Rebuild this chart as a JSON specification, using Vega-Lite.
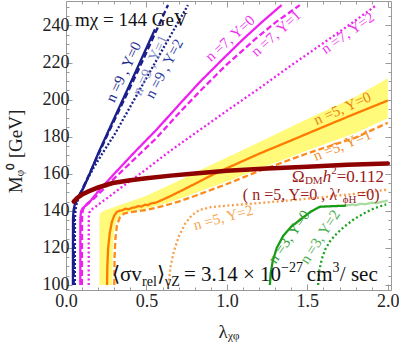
{
"$schema":"https://vega.github.io/schema/vega-lite/v6.json",
"width":325,"height":289,
"autosize":{"type":"none"},
"padding":{"left":66,"top":1,"right":8,"bottom":60},
"background":"white",
"config":{"view":{"stroke":"#9a9a9a","strokeWidth":1},"font":"Liberation Serif","text":{"font":"Liberation Serif"},"axis":{"labelFont":"Liberation Serif","titleFont":"Liberation Serif"}},
"datasets":{
"band":[
{"x":0.208,"lo":100,"hi":136},{"x":0.212,"lo":100,"hi":138.3},{"x":0.22,"lo":100,"hi":139.3},{"x":0.24,"lo":100,"hi":140.2},{"x":0.26,"lo":100,"hi":140.8},{"x":0.287,"lo":100,"hi":141.6},{"x":0.29,"lo":118,"hi":141.7},{"x":0.295,"lo":127,"hi":141.9},{"x":0.305,"lo":132.5,"hi":142.2},{"x":0.32,"lo":135.8,"hi":142.7},{"x":0.34,"lo":137.7,"hi":143.3},{"x":0.37,"lo":138.8,"hi":144.2},{"x":0.4,"lo":139.5,"hi":145},{"x":0.5,"lo":141.3,"hi":148.2},{"x":0.6,"lo":143.5,"hi":152.2},{"x":0.7,"lo":146.3,"hi":156.3},{"x":0.8,"lo":149.5,"hi":160.5},{"x":1.0,"lo":155.8,"hi":168.8},{"x":1.2,"lo":162.6,"hi":177},{"x":1.5,"lo":172.5,"hi":189.5},{"x":1.8,"lo":182,"hi":201.5},{"x":2.0,"lo":190,"hi":211.5}],
"lines":[
{"s":"n9Y0","x":0.043,"y":100},{"s":"n9Y0","x":0.0432,"y":120},{"s":"n9Y0","x":0.0435,"y":136},{"s":"n9Y0","x":0.047,"y":140.5},{"s":"n9Y0","x":0.055,"y":143.5},{"s":"n9Y0","x":0.068,"y":146.2},{"s":"n9Y0","x":0.09,"y":149.5},{"s":"n9Y0","x":0.11,"y":152.5},{"s":"n9Y0","x":0.14,"y":158.5},{"s":"n9Y0","x":0.2,"y":171},{"s":"n9Y0","x":0.3,"y":190},{"s":"n9Y0","x":0.43,"y":214.5},{"s":"n9Y0","x":0.553,"y":238},
{"s":"n9Y1","x":0.048,"y":100},{"s":"n9Y1","x":0.0482,"y":120},{"s":"n9Y1","x":0.0485,"y":136.5},{"s":"n9Y1","x":0.052,"y":141},{"s":"n9Y1","x":0.06,"y":144},{"s":"n9Y1","x":0.075,"y":147.2},{"s":"n9Y1","x":0.1,"y":151.5},{"s":"n9Y1","x":0.13,"y":157},{"s":"n9Y1","x":0.17,"y":164.5},{"s":"n9Y1","x":0.26,"y":181.5},{"s":"n9Y1","x":0.45,"y":216},{"s":"n9Y1","x":0.634,"y":251},
{"s":"n9Y2","x":0.055,"y":100},{"s":"n9Y2","x":0.0552,"y":120},{"s":"n9Y2","x":0.0556,"y":136},{"s":"n9Y2","x":0.06,"y":141},{"s":"n9Y2","x":0.068,"y":144.5},{"s":"n9Y2","x":0.085,"y":148.3},{"s":"n9Y2","x":0.12,"y":155},{"s":"n9Y2","x":0.17,"y":163},{"s":"n9Y2","x":0.23,"y":171.5},{"s":"n9Y2","x":0.304,"y":181.5},{"s":"n9Y2","x":0.45,"y":204},{"s":"n9Y2","x":0.6,"y":227},{"s":"n9Y2","x":0.758,"y":251},
{"s":"n7Y0","x":0.089,"y":100},{"s":"n7Y0","x":0.0892,"y":120},{"s":"n7Y0","x":0.0896,"y":136},{"s":"n7Y0","x":0.093,"y":139.5},{"s":"n7Y0","x":0.102,"y":141.2},{"s":"n7Y0","x":0.118,"y":142.5},{"s":"n7Y0","x":0.14,"y":144},{"s":"n7Y0","x":0.2,"y":150.5},{"s":"n7Y0","x":0.3,"y":160},{"s":"n7Y0","x":0.43,"y":172},{"s":"n7Y0","x":0.565,"y":184},{"s":"n7Y0","x":0.7,"y":197},{"s":"n7Y0","x":0.832,"y":209.5},{"s":"n7Y0","x":0.97,"y":221.5},{"s":"n7Y0","x":1.1,"y":232.5},{"s":"n7Y0","x":1.22,"y":242},{"s":"n7Y0","x":1.34,"y":251},
{"s":"n7Y1","x":0.099,"y":100},{"s":"n7Y1","x":0.0992,"y":120},{"s":"n7Y1","x":0.0996,"y":136.5},{"s":"n7Y1","x":0.104,"y":140.3},{"s":"n7Y1","x":0.115,"y":142.5},{"s":"n7Y1","x":0.135,"y":144.2},{"s":"n7Y1","x":0.172,"y":146.5},{"s":"n7Y1","x":0.3,"y":157.5},{"s":"n7Y1","x":0.45,"y":170},{"s":"n7Y1","x":0.553,"y":178.5},{"s":"n7Y1","x":0.7,"y":192.5},{"s":"n7Y1","x":0.832,"y":204.5},{"s":"n7Y1","x":1.0,"y":219},{"s":"n7Y1","x":1.174,"y":232.5},{"s":"n7Y1","x":1.3,"y":241.5},{"s":"n7Y1","x":1.453,"y":251},
{"s":"n7Y2","x":0.141,"y":100},{"s":"n7Y2","x":0.1412,"y":120},{"s":"n7Y2","x":0.1416,"y":136.5},{"s":"n7Y2","x":0.145,"y":139},{"s":"n7Y2","x":0.155,"y":140.5},{"s":"n7Y2","x":0.172,"y":141.5},{"s":"n7Y2","x":0.25,"y":146.5},{"s":"n7Y2","x":0.35,"y":153},{"s":"n7Y2","x":0.5,"y":162.5},{"s":"n7Y2","x":0.65,"y":172.5},{"s":"n7Y2","x":0.772,"y":180},{"s":"n7Y2","x":1.0,"y":194},{"s":"n7Y2","x":1.2,"y":206},{"s":"n7Y2","x":1.4,"y":218.5},{"s":"n7Y2","x":1.598,"y":230.4},{"s":"n7Y2","x":1.78,"y":241.5},{"s":"n7Y2","x":1.93,"y":251},
{"s":"n5Y0","x":0.255,"y":100},{"s":"n5Y0","x":0.257,"y":110},{"s":"n5Y0","x":0.262,"y":120},{"s":"n5Y0","x":0.272,"y":128},{"s":"n5Y0","x":0.285,"y":134},{"s":"n5Y0","x":0.3,"y":137.5},{"s":"n5Y0","x":0.315,"y":139.3},{"s":"n5Y0","x":0.33,"y":140},{"s":"n5Y0","x":0.35,"y":140.3},{"s":"n5Y0","x":0.37,"y":141.2},{"s":"n5Y0","x":0.39,"y":140.8},{"s":"n5Y0","x":0.41,"y":141.6},{"s":"n5Y0","x":0.43,"y":141.9},{"s":"n5Y0","x":0.45,"y":142.6},{"s":"n5Y0","x":0.47,"y":142.3},{"s":"n5Y0","x":0.49,"y":143.3},{"s":"n5Y0","x":0.51,"y":143.1},{"s":"n5Y0","x":0.53,"y":144},{"s":"n5Y0","x":0.56,"y":144.5},{"s":"n5Y0","x":0.6,"y":146},{"s":"n5Y0","x":0.65,"y":148},{"s":"n5Y0","x":0.72,"y":151},{"s":"n5Y0","x":0.8,"y":154.5},{"s":"n5Y0","x":0.9,"y":159},{"s":"n5Y0","x":1.0,"y":163},{"s":"n5Y0","x":1.2,"y":170.8},{"s":"n5Y0","x":1.4,"y":178},{"s":"n5Y0","x":1.6,"y":185.3},{"s":"n5Y0","x":1.8,"y":192.5},{"s":"n5Y0","x":2.0,"y":199.5},
{"s":"n5Y1","x":0.3,"y":100},{"s":"n5Y1","x":0.302,"y":115},{"s":"n5Y1","x":0.307,"y":125},{"s":"n5Y1","x":0.317,"y":132.5},{"s":"n5Y1","x":0.335,"y":136.5},{"s":"n5Y1","x":0.36,"y":138.5},{"s":"n5Y1","x":0.4,"y":139.3},{"s":"n5Y1","x":0.5,"y":140.5},{"s":"n5Y1","x":0.6,"y":142.5},{"s":"n5Y1","x":0.7,"y":145},{"s":"n5Y1","x":0.8,"y":148},{"s":"n5Y1","x":1.0,"y":154.5},{"s":"n5Y1","x":1.2,"y":161.5},{"s":"n5Y1","x":1.5,"y":171},{"s":"n5Y1","x":1.8,"y":179.5},{"s":"n5Y1","x":2.0,"y":187.5},
{"s":"n5Y2","x":0.636,"y":100},{"s":"n5Y2","x":0.65,"y":110},{"s":"n5Y2","x":0.67,"y":118},{"s":"n5Y2","x":0.7,"y":126},{"s":"n5Y2","x":0.74,"y":133},{"s":"n5Y2","x":0.78,"y":137.5},{"s":"n5Y2","x":0.83,"y":140.5},{"s":"n5Y2","x":0.9,"y":142},{"s":"n5Y2","x":1.0,"y":142.8},{"s":"n5Y2","x":1.2,"y":144.2},{"s":"n5Y2","x":1.5,"y":146.5},{"s":"n5Y2","x":1.8,"y":149.2},{"s":"n5Y2","x":2.0,"y":151.5},
{"s":"n3Y0","x":1.267,"y":100},{"s":"n3Y0","x":1.272,"y":106},{"s":"n3Y0","x":1.285,"y":113},{"s":"n3Y0","x":1.31,"y":120},{"s":"n3Y0","x":1.35,"y":126.5},{"s":"n3Y0","x":1.4,"y":131.5},{"s":"n3Y0","x":1.453,"y":135},{"s":"n3Y0","x":1.52,"y":139.5},{"s":"n3Y0","x":1.578,"y":142.2},{"s":"n3Y0","x":1.65,"y":142.5},{"s":"n3Y0","x":1.743,"y":142.8},
{"s":"n3pale","x":1.743,"y":142.8},{"s":"n3pale","x":1.78,"y":143.5},{"s":"n3pale","x":1.8,"y":143},{"s":"n3pale","x":1.83,"y":143.8},{"s":"n3pale","x":1.86,"y":143.6},{"s":"n3pale","x":1.9,"y":144.4},{"s":"n3pale","x":1.93,"y":144.2},{"s":"n3pale","x":1.97,"y":145},{"s":"n3pale","x":2.0,"y":145.5},
{"s":"n3Y2","x":1.567,"y":100},{"s":"n3Y2","x":1.575,"y":108},{"s":"n3Y2","x":1.59,"y":114},{"s":"n3Y2","x":1.61,"y":119},{"s":"n3Y2","x":1.64,"y":123.5},{"s":"n3Y2","x":1.68,"y":127.5},{"s":"n3Y2","x":1.73,"y":131.5},{"s":"n3Y2","x":1.79,"y":135.5},{"s":"n3Y2","x":1.85,"y":138.5},{"s":"n3Y2","x":1.9,"y":140.8},{"s":"n3Y2","x":1.97,"y":143},{"s":"n3Y2","x":1.99,"y":143.5}],
"omega":[
{"x":0.048,"y":145},{"x":0.07,"y":147},{"x":0.1,"y":148.8},{"x":0.14,"y":150.5},{"x":0.2,"y":152.6},{"x":0.29,"y":155},{"x":0.4,"y":156.5},{"x":0.5,"y":157.6},{"x":0.65,"y":159},{"x":0.8,"y":160.2},{"x":1.0,"y":161.6},{"x":1.25,"y":162.8},{"x":1.5,"y":163.8},{"x":1.75,"y":164.8},{"x":2.0,"y":165.6}],
"one":[{"x":1,"y":150}]
},
"layer":[
{"data":{"name":"band"},"mark":{"type":"area","color":"#fffa7a","opacity":1},
 "encoding":{
  "x":{"field":"x","type":"quantitative","scale":{"domain":[0,2.02],"nice":false,"zero":false},
   "axis":{"orient":"bottom","values":[0,0.5,1,1.5,2],"format":".1f","domain":false,"grid":false,"tickSize":-6,"tickColor":"#9a9a9a","labelFontSize":18,"labelColor":"#222","labelPadding":8,"labelFlush":false,"labelOverlap":false,"title":"λᵪᵩ","titleFontSize":19,"titleFontWeight":"normal","titleColor":"#222","titleX":162.5,"titleY":47,"titleBaseline":"alphabetic","titleAlign":"center"}},
  "y":{"field":"lo","type":"quantitative","scale":{"domain":[97.3,253.2],"nice":false,"zero":false},
   "axis":{"orient":"left","values":[100,120,140,160,180,200,220,240],"domain":false,"grid":false,"tickSize":-6,"tickColor":"#9a9a9a","labelFontSize":18,"labelColor":"#222","labelPadding":3,"title":"Mᵩ⁰ [GeV]","titleFontSize":19,"titleFontWeight":"normal","titleColor":"#222","titleX":-51,"titleY":150,"titleAngle":-90,"titleAlign":"center","titleBaseline":"middle"}},
  "y2":{"field":"hi"}}},
{"data":{"name":"one"},"mark":{"type":"point","opacity":0},
 "encoding":{
  "x":{"field":"x","type":"quantitative","scale":{"domain":[0,2.02],"nice":false,"zero":false},
   "axis":{"orient":"bottom","values":[0.1,0.2,0.3,0.4,0.6,0.7,0.8,0.9,1.1,1.2,1.3,1.4,1.6,1.7,1.8,1.9],"domain":false,"grid":false,"labels":false,"tickSize":-3,"tickColor":"#9a9a9a","title":null}},
  "y":{"field":"y","type":"quantitative","scale":{"domain":[97.3,253.2],"nice":false,"zero":false},
   "axis":{"orient":"left","values":[105,110,115,125,130,135,145,150,155,165,170,175,185,190,195,205,210,215,225,230,235,245,250],"domain":false,"grid":false,"labels":false,"tickSize":-3,"tickColor":"#9a9a9a","title":null}}}},
{"data":{"name":"one"},"mark":{"type":"point","opacity":0},
 "encoding":{
  "x":{"field":"x","type":"quantitative","scale":{"domain":[0,2.02],"nice":false,"zero":false},
   "axis":{"orient":"top","values":[0,0.5,1,1.5,2],"domain":false,"grid":false,"labels":false,"tickSize":-6,"tickColor":"#9a9a9a","title":null}},
  "y":{"field":"y","type":"quantitative","scale":{"domain":[97.3,253.2],"nice":false,"zero":false},
   "axis":{"orient":"right","values":[100,120,140,160,180,200,220,240],"domain":false,"grid":false,"labels":false,"tickSize":-6,"tickColor":"#9a9a9a","title":null}}}},
{"data":{"name":"one"},"mark":{"type":"point","opacity":0},
 "encoding":{
  "x":{"field":"x","type":"quantitative","scale":{"domain":[0,2.02],"nice":false,"zero":false},
   "axis":{"orient":"top","values":[0.1,0.2,0.3,0.4,0.6,0.7,0.8,0.9,1.1,1.2,1.3,1.4,1.6,1.7,1.8,1.9],"domain":false,"grid":false,"labels":false,"tickSize":-3,"tickColor":"#9a9a9a","title":null}},
  "y":{"field":"y","type":"quantitative","scale":{"domain":[97.3,253.2],"nice":false,"zero":false},
   "axis":{"orient":"right","values":[105,110,115,125,130,135,145,150,155,165,170,175,185,190,195,205,210,215,225,230,235,245,250],"domain":false,"grid":false,"labels":false,"tickSize":-3,"tickColor":"#9a9a9a","title":null}}}},
{"data":{"name":"lines"},"mark":{"type":"line","clip":true,"strokeCap":"butt"},
 "encoding":{
  "x":{"field":"x","type":"quantitative","scale":{"domain":[0,2.02],"nice":false,"zero":false},"axis":null},
  "y":{"field":"y","type":"quantitative","scale":{"domain":[97.3,253.2],"nice":false,"zero":false},"axis":null},
  "order":{"value":null},
  "color":{"field":"s","type":"nominal","legend":null,"scale":{"domain":["n9Y0","n9Y1","n9Y2","n7Y0","n7Y1","n7Y2","n5Y0","n5Y1","n5Y2","n3Y0","n3pale","n3Y2"],"range":["#1a1f8c","#1a1f8c","#1a1f8c","#ee22ee","#ee22ee","#ee22ee","#ff7a00","#ff8a1a","#f7a04a","#169c16","#a8dca0","#1da31d"]}},
  "strokeDash":{"field":"s","type":"nominal","legend":null,"scale":{"domain":["n9Y0","n9Y1","n9Y2","n7Y0","n7Y1","n7Y2","n5Y0","n5Y1","n5Y2","n3Y0","n3pale","n3Y2"],"range":[[1,0],[6,3],[2,2],[1,0],[6,3],[2,2.5],[1,0],[6,3],[2,2.5],[1,0],[1,0],[2,2.5]]}},
  "strokeWidth":{"field":"s","type":"nominal","legend":null,"scale":{"domain":["n9Y0","n9Y1","n9Y2","n7Y0","n7Y1","n7Y2","n5Y0","n5Y1","n5Y2","n3Y0","n3pale","n3Y2"],"range":[2.3,2.3,2.5,1.8,1.8,2,1.6,1.6,1.6,1.8,1.3,2]}}}},
{"data":{"name":"omega"},"mark":{"type":"line","color":"#8f0000","strokeWidth":4.5,"strokeCap":"round"},
 "encoding":{
  "x":{"field":"x","type":"quantitative","scale":{"domain":[0,2.02],"nice":false,"zero":false},"axis":null},
  "y":{"field":"y","type":"quantitative","scale":{"domain":[97.3,253.2],"nice":false,"zero":false},"axis":null}}},
{"data":{"values":[{"x":0.056,"y":239.7,"t":"mχ = 144 GeV"}]},
 "mark":{"type":"text","align":"left","baseline":"alphabetic","fontSize":19,"color":"#111"},
 "encoding":{
  "x":{"field":"x","type":"quantitative","scale":{"domain":[0,2.02],"nice":false,"zero":false},"axis":null},
  "y":{"field":"y","type":"quantitative","scale":{"domain":[97.3,253.2],"nice":false,"zero":false},"axis":null},
  "text":{"field":"t"}}},
{"data":{"values":[
  {"x":0.286,"y":102.2,"t":"⟨σv"},
  {"x":0.565,"y":102.2,"t":"⟩"},
  {"x":0.733,"y":102.2,"t":"= 3.14 × 10"},
  {"x":1.497,"y":102.2,"t":"cm"},
  {"x":1.702,"y":102.2,"t":"/ sec"}]},
 "mark":{"type":"text","align":"left","baseline":"alphabetic","fontSize":21,"color":"#111"},
 "encoding":{
  "x":{"field":"x","type":"quantitative","scale":{"domain":[0,2.02],"nice":false,"zero":false},"axis":null},
  "y":{"field":"y","type":"quantitative","scale":{"domain":[97.3,253.2],"nice":false,"zero":false},"axis":null},
  "text":{"field":"t"}}},
{"data":{"values":[
  {"x":0.473,"y":99.4,"t":"rel"},
  {"x":0.616,"y":99.4,"t":"γZ"},
  {"x":1.337,"y":106.8,"t":"−27"},
  {"x":1.656,"y":106.8,"t":"3"}]},
 "mark":{"type":"text","align":"left","baseline":"alphabetic","fontSize":14,"color":"#111"},
 "encoding":{
  "x":{"field":"x","type":"quantitative","scale":{"domain":[0,2.02],"nice":false,"zero":false},"axis":null},
  "y":{"field":"y","type":"quantitative","scale":{"domain":[97.3,253.2],"nice":false,"zero":false},"axis":null},
  "text":{"field":"t"}}},
{"data":{"values":[
  {"x":1.404,"y":155.5,"t":"Ω"},
  {"x":1.683,"y":155.5,"t":"=0.112"}]},
 "mark":{"type":"text","align":"left","baseline":"alphabetic","fontSize":17,"color":"#9a1a1a"},
 "encoding":{
  "x":{"field":"x","type":"quantitative","scale":{"domain":[0,2.02],"nice":false,"zero":false},"axis":null},
  "y":{"field":"y","type":"quantitative","scale":{"domain":[97.3,253.2],"nice":false,"zero":false},"axis":null},
  "text":{"field":"t"}}},
{"data":{"values":[
  {"x":1.099,"y":145.9,"t":"( n =5,  Y=0 ,  λ′"},
  {"x":1.81,"y":145.9,"t":"=0)"}]},
 "mark":{"type":"text","align":"left","baseline":"alphabetic","fontSize":16,"color":"#9a1a1a"},
 "encoding":{
  "x":{"field":"x","type":"quantitative","scale":{"domain":[0,2.02],"nice":false,"zero":false},"axis":null},
  "y":{"field":"y","type":"quantitative","scale":{"domain":[97.3,253.2],"nice":false,"zero":false},"axis":null},
  "text":{"field":"t"}}},
{"data":{"values":[
  {"x":1.485,"y":154.3,"t":"DM"},
  {"x":1.649,"y":160,"t":"2"},
  {"x":1.72,"y":144.3,"t":"ϕH"}]},
 "mark":{"type":"text","align":"left","baseline":"alphabetic","fontSize":11,"color":"#9a1a1a"},
 "encoding":{
  "x":{"field":"x","type":"quantitative","scale":{"domain":[0,2.02],"nice":false,"zero":false},"axis":null},
  "y":{"field":"y","type":"quantitative","scale":{"domain":[97.3,253.2],"nice":false,"zero":false},"axis":null},
  "text":{"field":"t"}}},
{"data":{"values":[{"x":1.596,"y":155.5,"t":"h"}]},
 "mark":{"type":"text","align":"left","baseline":"alphabetic","fontSize":17,"fontStyle":"italic","color":"#9a1a1a"},
 "encoding":{
  "x":{"field":"x","type":"quantitative","scale":{"domain":[0,2.02],"nice":false,"zero":false},"axis":null},
  "y":{"field":"y","type":"quantitative","scale":{"domain":[97.3,253.2],"nice":false,"zero":false},"axis":null},
  "text":{"field":"t"}}},
{"data":{"values":[{"x":0.356,"y":215,"t":"n =9 ,  Y=0"}]},
 "mark":{"type":"text","align":"center","baseline":"middle","fontSize":15,"angle":295,"color":"#1e2a8c"},
 "encoding":{"x":{"field":"x","type":"quantitative","scale":{"domain":[0,2.02],"nice":false,"zero":false},"axis":null},"y":{"field":"y","type":"quantitative","scale":{"domain":[97.3,253.2],"nice":false,"zero":false},"axis":null},"text":{"field":"t"}}},
{"data":{"values":[{"x":0.522,"y":218.6,"t":"n =9 ,  Y=1"}]},
 "mark":{"type":"text","align":"center","baseline":"middle","fontSize":15,"angle":295,"color":"#7f8cc6"},
 "encoding":{"x":{"field":"x","type":"quantitative","scale":{"domain":[0,2.02],"nice":false,"zero":false},"axis":null},"y":{"field":"y","type":"quantitative","scale":{"domain":[97.3,253.2],"nice":false,"zero":false},"axis":null},"text":{"field":"t"}}},
{"data":{"values":[{"x":0.609,"y":216.8,"t":"n =9 ,  Y=2"}]},
 "mark":{"type":"text","align":"center","baseline":"middle","fontSize":15,"angle":298,"color":"#2a3aa0"},
 "encoding":{"x":{"field":"x","type":"quantitative","scale":{"domain":[0,2.02],"nice":false,"zero":false},"axis":null},"y":{"field":"y","type":"quantitative","scale":{"domain":[97.3,253.2],"nice":false,"zero":false},"axis":null},"text":{"field":"t"}}},
{"data":{"values":[{"x":1.019,"y":233.1,"t":"n =7,  Y=0"},{"x":1.304,"y":235.8,"t":"n =7,  Y=1"}]},
 "mark":{"type":"text","align":"center","baseline":"middle","fontSize":15,"angle":318,"color":"#ee33ee"},
 "encoding":{"x":{"field":"x","type":"quantitative","scale":{"domain":[0,2.02],"nice":false,"zero":false},"axis":null},"y":{"field":"y","type":"quantitative","scale":{"domain":[97.3,253.2],"nice":false,"zero":false},"axis":null},"text":{"field":"t"}}},
{"data":{"values":[{"x":1.75,"y":236,"t":"n =7,  Y=2"}]},
 "mark":{"type":"text","align":"center","baseline":"middle","fontSize":15,"angle":325,"color":"#ee33ee"},
 "encoding":{"x":{"field":"x","type":"quantitative","scale":{"domain":[0,2.02],"nice":false,"zero":false},"axis":null},"y":{"field":"y","type":"quantitative","scale":{"domain":[97.3,253.2],"nice":false,"zero":false},"axis":null},"text":{"field":"t"}}},
{"data":{"values":[{"x":1.717,"y":195.3,"t":"n =5,  Y=0"}]},
 "mark":{"type":"text","align":"center","baseline":"middle","fontSize":15,"angle":336,"color":"#f08010"},
 "encoding":{"x":{"field":"x","type":"quantitative","scale":{"domain":[0,2.02],"nice":false,"zero":false},"axis":null},"y":{"field":"y","type":"quantitative","scale":{"domain":[97.3,253.2],"nice":false,"zero":false},"axis":null},"text":{"field":"t"}}},
{"data":{"values":[{"x":1.717,"y":175.5,"t":"n =5,  Y=1"}]},
 "mark":{"type":"text","align":"center","baseline":"middle","fontSize":15,"angle":338,"color":"#f09030"},
 "encoding":{"x":{"field":"x","type":"quantitative","scale":{"domain":[0,2.02],"nice":false,"zero":false},"axis":null},"y":{"field":"y","type":"quantitative","scale":{"domain":[97.3,253.2],"nice":false,"zero":false},"axis":null},"text":{"field":"t"}}},
{"data":{"values":[{"x":0.977,"y":136.5,"t":"n =5,  Y=2"}]},
 "mark":{"type":"text","align":"center","baseline":"middle","fontSize":15,"angle":345,"color":"#f5a550"},
 "encoding":{"x":{"field":"x","type":"quantitative","scale":{"domain":[0,2.02],"nice":false,"zero":false},"axis":null},"y":{"field":"y","type":"quantitative","scale":{"domain":[97.3,253.2],"nice":false,"zero":false},"axis":null},"text":{"field":"t"}}},
{"data":{"values":[{"x":1.385,"y":126,"t":"n =3,  Y=0"}]},
 "mark":{"type":"text","align":"center","baseline":"middle","fontSize":15,"angle":305,"color":"#30a030"},
 "encoding":{"x":{"field":"x","type":"quantitative","scale":{"domain":[0,2.02],"nice":false,"zero":false},"axis":null},"y":{"field":"y","type":"quantitative","scale":{"domain":[97.3,253.2],"nice":false,"zero":false},"axis":null},"text":{"field":"t"}}},
{"data":{"values":[{"x":1.578,"y":126,"t":"n =3,  Y=2"}]},
 "mark":{"type":"text","align":"center","baseline":"middle","fontSize":15,"angle":303,"color":"#50b050"},
 "encoding":{"x":{"field":"x","type":"quantitative","scale":{"domain":[0,2.02],"nice":false,"zero":false},"axis":null},"y":{"field":"y","type":"quantitative","scale":{"domain":[97.3,253.2],"nice":false,"zero":false},"axis":null},"text":{"field":"t"}}}
],
"resolve":{"axis":{"x":"independent","y":"independent"}}
}
